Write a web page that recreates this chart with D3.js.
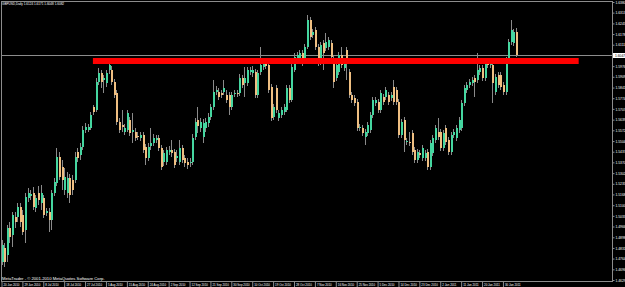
<!DOCTYPE html>
<html>
<head>
<meta charset="utf-8">
<script src="https://cdn.jsdelivr.net/npm/d3@7"></script>
<style>
html, body { margin: 0; padding: 0; background: #000; overflow: hidden; }
svg { display: block; }
text { font-family: "Liberation Sans", Arial, sans-serif; }
</style>
</head>
<body>
<script>
// chart header and data (GBPUSD daily)
var chartTitle = "GBPUSD,Daily  1.6124 1.6171 1.6048 1.6082";
var copyright = "MetaTrader - \u00a9 2001-2010 MetaQuotes Software Corp.";

var opens = [1.4742,1.4831,1.4787,1.4957,1.4913,1.5026,1.5026,1.5089,1.5039,1.4944,
1.5146,1.5158,1.5177,1.5083,1.5177,1.5114,1.5146,1.5051,1.5057,1.5007,
1.5177,1.5240,1.5404,1.5341,1.5196,1.5177,1.5272,1.5259,1.5259,1.5435,
1.5417,1.5467,1.5574,1.5574,1.5587,1.5719,1.5700,1.5876,1.5933,1.5889,
1.5870,1.5952,1.5952,1.5876,1.5807,1.5624,1.5606,1.5561,1.5574,1.5637,
1.5561,1.5561,1.5536,1.5524,1.5543,1.5467,1.5398,1.5473,1.5492,1.5511,
1.5524,1.5461,1.5372,1.5372,1.5435,1.5448,1.5435,1.5398,1.5372,1.5461,
1.5398,1.5372,1.5366,1.5372,1.5530,1.5637,1.5587,1.5530,1.5587,1.5618,
1.5656,1.5719,1.5813,1.5813,1.5807,1.5813,1.5795,1.5795,1.5719,1.5801,
1.5807,1.5807,1.5902,1.5870,1.5870,1.5939,1.5933,1.5939,1.5795,1.5939,
1.5971,1.5996,1.5984,1.5845,1.5656,1.5839,1.5650,1.5669,1.5687,1.5700,
1.5839,1.5763,1.5952,1.6015,1.6028,1.6059,1.6028,1.6097,1.6267,1.6172,
1.6204,1.6097,1.6002,1.6122,1.6091,1.6097,1.6122,1.6028,1.5902,1.5939,
1.6047,1.5965,1.6078,1.5939,1.5795,1.5776,1.5750,1.5587,1.5587,1.5530,
1.5555,1.5574,1.5669,1.5744,1.5750,1.5700,1.5782,1.5782,1.5795,1.5776,
1.5845,1.5826,1.5750,1.5543,1.5637,1.5498,1.5498,1.5555,1.5448,1.5385,
1.5429,1.5398,1.5398,1.5435,1.5341,1.5429,1.5511,1.5561,1.5561,1.5461,
1.5587,1.5511,1.5435,1.5543,1.5524,1.5574,1.5587,1.5744,1.5826,1.5858,
1.5870,1.5902,1.5889,1.5939,1.5965,1.5902,1.6002,1.5984,1.5984,1.5813,
1.5921,1.5921,1.5858,1.5813,1.6028,1.6128,1.6122,1.6191];

var highs = [1.4881,1.4862,1.4976,1.4994,1.5057,1.5057,1.5114,1.5114,1.5070,1.5177,
1.5209,1.5196,1.5215,1.5165,1.5221,1.5228,1.5165,1.5083,1.5083,1.5196,
1.5272,1.5461,1.5435,1.5385,1.5335,1.5309,1.5297,1.5291,1.5435,1.5461,
1.5492,1.5599,1.5618,1.5612,1.5687,1.5732,1.5902,1.5965,1.5952,1.5921,
1.5952,1.5996,1.5977,1.5895,1.5826,1.5650,1.5700,1.5612,1.5700,1.5656,
1.5681,1.5587,1.5561,1.5561,1.5561,1.5486,1.5492,1.5587,1.5549,1.5543,
1.5543,1.5480,1.5448,1.5467,1.5473,1.5511,1.5454,1.5448,1.5511,1.5480,
1.5417,1.5398,1.5398,1.5549,1.5650,1.5719,1.5650,1.5643,1.5650,1.5681,
1.5738,1.5889,1.5851,1.5839,1.5826,1.5889,1.5826,1.5813,1.5813,1.5826,
1.5826,1.5927,1.5921,1.5971,1.5971,1.5971,1.5977,1.5958,1.5952,1.6097,
1.6028,1.6015,1.6002,1.5864,1.5738,1.5858,1.5700,1.5719,1.5738,1.5858,
1.5858,1.5990,1.6059,1.6065,1.6078,1.6078,1.6116,1.6298,1.6286,1.6210,
1.6223,1.6116,1.6128,1.6141,1.6185,1.6160,1.6141,1.6047,1.6002,1.6065,
1.6097,1.6028,1.6097,1.5958,1.5813,1.5795,1.5769,1.5612,1.5606,1.5580,
1.5624,1.5687,1.5782,1.5782,1.5769,1.5826,1.5801,1.5845,1.5813,1.5813,
1.5889,1.5845,1.5769,1.5643,1.5656,1.5524,1.5561,1.5574,1.5467,1.5454,
1.5448,1.5480,1.5448,1.5454,1.5511,1.5543,1.5606,1.5650,1.5580,1.5574,
1.5606,1.5530,1.5561,1.5580,1.5606,1.5656,1.5763,1.5858,1.5876,1.5895,
1.5908,1.5921,1.6059,1.5984,1.5984,1.6015,1.6021,1.6015,1.6002,1.5927,
1.5939,1.5939,1.5876,1.6034,1.6147,1.6267,1.6210,1.6217];

var lows = [1.4724,1.4711,1.4742,1.4862,1.4837,1.4957,1.4994,1.4963,1.4913,1.4862,
1.5120,1.5133,1.5070,1.5057,1.5102,1.5070,1.5020,1.5032,1.4931,1.4944,
1.5158,1.5221,1.5259,1.5196,1.5165,1.5146,1.5114,1.5165,1.5240,1.5372,
1.5385,1.5448,1.5555,1.5561,1.5574,1.5669,1.5687,1.5858,1.5839,1.5807,
1.5845,1.5927,1.5858,1.5776,1.5606,1.5555,1.5561,1.5543,1.5561,1.5536,
1.5492,1.5505,1.5511,1.5505,1.5429,1.5354,1.5379,1.5448,1.5473,1.5492,
1.5442,1.5322,1.5347,1.5354,1.5417,1.5404,1.5335,1.5372,1.5354,1.5366,
1.5341,1.5328,1.5341,1.5354,1.5511,1.5555,1.5561,1.5492,1.5561,1.5593,
1.5637,1.5700,1.5795,1.5763,1.5776,1.5795,1.5744,1.5669,1.5700,1.5782,
1.5782,1.5788,1.5839,1.5782,1.5851,1.5921,1.5908,1.5776,1.5776,1.5921,
1.5952,1.5958,1.5807,1.5631,1.5637,1.5681,1.5631,1.5650,1.5669,1.5687,
1.5744,1.5750,1.5939,1.5996,1.6009,1.5977,1.6009,1.6084,1.6141,1.6154,
1.6078,1.5977,1.5984,1.5952,1.6072,1.6078,1.6015,1.5839,1.5883,1.5921,
1.5965,1.5946,1.5889,1.5776,1.5744,1.5725,1.5568,1.5568,1.5536,1.5480,
1.5536,1.5555,1.5650,1.5725,1.5681,1.5681,1.5732,1.5763,1.5732,1.5757,
1.5732,1.5732,1.5524,1.5524,1.5435,1.5480,1.5473,1.5417,1.5366,1.5366,
1.5398,1.5379,1.5379,1.5322,1.5322,1.5410,1.5492,1.5511,1.5442,1.5442,
1.5480,1.5417,1.5417,1.5524,1.5505,1.5555,1.5568,1.5725,1.5807,1.5839,
1.5851,1.5782,1.5870,1.5921,1.5883,1.5883,1.5965,1.5965,1.5744,1.5795,
1.5839,1.5826,1.5795,1.5795,1.6009,1.6110,1.6103,1.6034];

var closes = [1.4850,1.4742,1.4957,1.4900,1.5039,1.4994,1.5089,1.4994,1.4931,1.5152,
1.5177,1.5171,1.5089,1.5146,1.5133,1.5177,1.5039,1.5064,1.5007,1.5177,
1.5246,1.5404,1.5278,1.5259,1.5278,1.5272,1.5165,1.5196,1.5404,1.5398,
1.5467,1.5574,1.5593,1.5593,1.5669,1.5687,1.5876,1.5933,1.5876,1.5902,
1.5933,1.5984,1.5876,1.5795,1.5624,1.5574,1.5593,1.5587,1.5681,1.5555,
1.5574,1.5524,1.5530,1.5543,1.5448,1.5398,1.5467,1.5492,1.5524,1.5524,
1.5461,1.5341,1.5429,1.5448,1.5448,1.5429,1.5354,1.5410,1.5461,1.5385,
1.5366,1.5354,1.5372,1.5524,1.5624,1.5599,1.5624,1.5618,1.5624,1.5656,
1.5719,1.5813,1.5826,1.5782,1.5795,1.5839,1.5763,1.5719,1.5795,1.5807,
1.5801,1.5902,1.5858,1.5902,1.5952,1.5952,1.5952,1.5795,1.5933,1.5984,
1.5996,1.5977,1.5826,1.5650,1.5719,1.5700,1.5681,1.5700,1.5719,1.5839,
1.5763,1.5971,1.6034,1.6047,1.6059,1.5996,1.6097,1.6267,1.6160,1.6191,
1.6097,1.5996,1.6110,1.6059,1.6128,1.6141,1.6034,1.5876,1.5984,1.6047,
1.5984,1.6002,1.5996,1.5795,1.5763,1.5744,1.5587,1.5593,1.5555,1.5561,
1.5606,1.5669,1.5763,1.5763,1.5700,1.5807,1.5750,1.5826,1.5750,1.5795,
1.5750,1.5750,1.5543,1.5624,1.5511,1.5505,1.5492,1.5435,1.5385,1.5435,
1.5417,1.5461,1.5429,1.5341,1.5492,1.5524,1.5587,1.5530,1.5461,1.5555,
1.5498,1.5435,1.5543,1.5561,1.5587,1.5637,1.5744,1.5839,1.5858,1.5876,
1.5889,1.5876,1.5952,1.5965,1.5902,1.5996,1.5984,1.5996,1.5870,1.5908,
1.5858,1.5845,1.5813,1.6015,1.6128,1.6204,1.6191,1.6047];

// date labels on the time axis and the bar each one sits on
var dateLabels = ["20 Jun 2010","29 Jun 2010","8 Jul 2010","18 Jul 2010","27 Jul 2010",
"5 Aug 2010","15 Aug 2010","24 Aug 2010","2 Sep 2010","12 Sep 2010",
"21 Sep 2010","30 Sep 2010","10 Oct 2010","19 Oct 2010","28 Oct 2010",
"7 Nov 2010","16 Nov 2010","25 Nov 2010","5 Dec 2010","14 Dec 2010",
"23 Dec 2010","2 Jan 2011","11 Jan 2011","20 Jan 2011","30 Jan 2011"];
var dateBars = [0,8,16,24,32,40,48,56,64,72,80,88,96,104,112,120,128,136,144,152,160,168,176,184,192];

// price scale labels
var priceTicks = [1.6380,1.6313,1.6245,1.6178,1.6111,1.5976,1.5909,1.5841,1.5774,1.5707,
1.5639,1.5572,1.5504,1.5437,1.5370,1.5302,1.5235,1.5168,1.5100,1.5033,
1.4966,1.4898,1.4831,1.4764,1.4696,1.4629];

// red horizontal trend line drawn on the chart
var levelPrice = 1.6009;
var levelFromBar = 35;
var levelToBar = 221;

window.onload = function(){
    var w = 625, h = 287;
    var left = 1, top = 1, right = 612, bottom = 281;

    var svg = d3.select("body")
        .append("svg")
        .attr("width", w)
        .attr("height", h)
        .style("background-color", "#000");

    var x = d3.scaleLinear()
        .domain([0, 197])
        .range([1.5, 516]);

    var y = d3.scaleLinear()
        .domain([1.4629, 1.6380])
        .range([280, 2]);

    var candles = opens.map(function(o, i){
        return {i: i, o: o, h: highs[i], l: lows[i], c: closes[i]};
    });

//small text helper: browser won't go below ~6px so draw at 2x and scale down
    function tiny(sel, px){
        sel.style("font-size", (px * 2) + "px");
        return sel;
    }

//plot frame
    svg.append("rect")
        .attr("x", left + 0.5)
        .attr("y", top + 0.5)
        .attr("width", right - left)
        .attr("height", bottom - top)
        .style("fill", "none")
        .style("stroke", "#8c8c8c")
        .style("stroke-width", 1);

//current price (bid) line
    var last = closes[closes.length - 1];
    var py = Math.round(y(last)) + 0.5;
    svg.append("line")
        .attr("x1", left)
        .attr("x2", right)
        .attr("y1", py)
        .attr("y2", py)
        .style("stroke", "#8c8c8c")
        .style("stroke-width", 1);

//wicks and bodies
    var g = svg.append("g").attr("class", "candles").style("shape-rendering", "crispEdges");

    g.selectAll(".wick")
        .data(candles)
        .enter()
        .append("line")
        .attr("class", "wick")
        .attr("x1", function(d){ return Math.round(x(d.i)) + 0.5; })
        .attr("x2", function(d){ return Math.round(x(d.i)) + 0.5; })
        .attr("y1", function(d){ return y(d.h); })
        .attr("y2", function(d){ return y(d.l); })
        .style("stroke", "#8a8a8a")
        .style("stroke-width", 1);

    g.selectAll(".body")
        .data(candles)
        .enter()
        .append("rect")
        .attr("class", "body")
        .attr("x", function(d){ return Math.round(x(d.i)) - 0.5; })
        .attr("width", 2)
        .attr("y", function(d){ return y(Math.max(d.o, d.c)); })
        .attr("height", function(d){
            return Math.max(1, y(Math.min(d.o, d.c)) - y(Math.max(d.o, d.c)));
        })
        .style("fill", function(d){
            return d.c >= d.o ? "#45d6a0" : "#efbf82";
        });

//red level line
    svg.append("line")
        .attr("x1", x(levelFromBar))
        .attr("x2", x(levelToBar))
        .attr("y1", y(levelPrice))
        .attr("y2", y(levelPrice))
        .style("stroke", "#ff0000")
        .style("stroke-width", 6);

//price axis on the right
    var yAxis = d3.axisRight(y)
        .tickValues(priceTicks)
        .tickFormat(d3.format(".4f"))
        .tickSize(2);

    var ya = svg.append("g")
        .attr("class", "axis")
        .attr("transform", "translate(" + (right + 0.5) + ",0)")
        .call(yAxis);
    ya.select(".domain").remove();
    ya.selectAll("line").style("stroke", "#8c8c8c");
    tiny(ya.selectAll("text"), 3.3)
        .attr("x", 6)
        .attr("dy", "0.35em")
        .attr("transform", "scale(0.5)")
        .style("fill", "#ffffff");

//current price marker
    svg.append("rect")
        .attr("x", right + 1)
        .attr("y", py - 2.5)
        .attr("width", 13)
        .attr("height", 5)
        .style("fill", "#ffffff");
    tiny(svg.append("text"), 3.3)
        .attr("transform", "translate(" + (right + 3) + "," + (py + 1.2) + ") scale(0.5)")
        .style("fill", "#000")
        .text(d3.format(".4f")(last));

//time axis at the bottom
    var xAxis = d3.axisBottom(x)
        .tickValues(dateBars)
        .tickFormat(function(d, i){ return dateLabels[i]; })
        .tickSize(6);

    var xa = svg.append("g")
        .attr("class", "axis")
        .attr("transform", "translate(0," + (bottom + 0.5) + ")")
        .call(xAxis);
    xa.select(".domain").remove();
    xa.selectAll("line").style("stroke", "#8c8c8c");
    tiny(xa.selectAll("text"), 2.9)
        .attr("text-anchor", "start")
        .attr("x", 3)
        .attr("y", 9)
        .attr("dy", 0)
        .attr("transform", "scale(0.5)")
        .style("fill", "#ffffff");

//title and copyright
    tiny(svg.append("text"), 3.1)
        .attr("transform", "translate(2,5.2) scale(0.5)")
        .style("fill", "#ffffff")
        .text(chartTitle);

    tiny(svg.append("text"), 4.2)
        .attr("transform", "translate(2,280) scale(0.5)")
        .style("fill", "#ffffff")
        .text(copyright);
};
</script>
</body>
</html>
